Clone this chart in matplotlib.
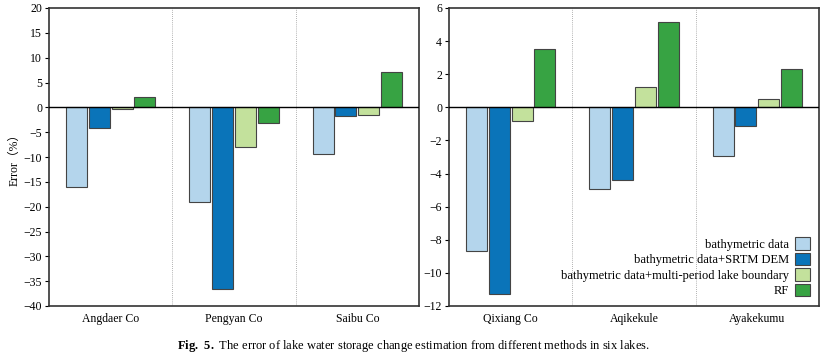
import numpy as np
import matplotlib.pyplot as plt

plt.rcParams['font.family'] = ['Liberation Serif', 'Noto Sans CJK SC']
plt.rcParams['font.size'] = 8.5
plt.rcParams['mathtext.fontset'] = 'custom'
plt.rcParams['mathtext.rm'] = 'Liberation Serif'
plt.rcParams['mathtext.bf'] = 'Liberation Serif:bold'

methods = ['bathymetric data', 'bathymetric data+SRTM DEM',
           'bathymetric data+multi-period lake boundary', 'RF']
colors = ['#b4d5ec', '#0a74b9', '#c3e19c', '#37a343']

lakes_left = ['Angdaer Co', 'Pengyan Co', 'Saibu Co']
bathy_left = [-16.0, -19.0, -9.4]
srtm_left = [-4.2, -36.5, -1.7]
multi_left = [-0.4, -7.9, -1.5]
rf_left = [2.0, -3.2, 7.2]

lakes_right = ['Qixiang Co', 'Aqikekule', 'Ayakekumu']
bathy_right = [-8.65, -4.95, -2.95]
srtm_right = [-11.3, -4.4, -1.1]
multi_right = [-0.85, 1.2, 0.5]
rf_right = [3.5, 5.15, 2.3]

fig = plt.figure(figsize=(8.26, 3.57), dpi=100)
ax1 = fig.add_axes([49/826, 51/357, 370/826, 298/357])
ax2 = fig.add_axes([449/826, 51/357, 370/826, 298/357])

def draw(ax, lakes, series, ylim, yticks):
    x = np.arange(len(lakes))
    w = 0.17
    for i, vals in enumerate(series):
        ax.bar(x + (i - 1.5) * 0.185, vals, w, color=colors[i],
               edgecolor='#444444', linewidth=0.8, label=methods[i], zorder=2)
    ax.axhline(0, color='black', lw=1.0, zorder=3)
    for b in [0.5, 1.5]:
        ax.axvline(b, color='#999999', lw=0.6, ls=(0, (1, 1.5)), zorder=1)
    ax.set_xlim(-0.5, len(lakes) - 0.5)
    ax.set_ylim(*ylim)
    ax.set_yticks(yticks)
    ax.set_yticklabels([str(t).replace('-', '\u2212') for t in yticks])
    ax.set_xticks(x)
    ax.set_xticklabels(lakes)
    ax.tick_params(axis='x', length=0, pad=5)
    ax.tick_params(axis='y', length=3, width=0.8, direction='out', pad=2)
    for s in ax.spines.values():
        s.set_linewidth(1.2)
        s.set_color('#333333')

draw(ax1, lakes_left, [bathy_left, srtm_left, multi_left, rf_left],
     (-40, 20), list(range(-40, 21, 5)))
draw(ax2, lakes_right, [bathy_right, srtm_right, multi_right, rf_right],
     (-12, 6), list(range(-12, 7, 2)))

ax1.set_ylabel('Error（%）', labelpad=2)

ax2.legend(loc='lower right', markerfirst=False, frameon=False,
           handlelength=1.2, handleheight=1.2, handletextpad=0.5,
           labelspacing=0.15, borderaxespad=0.3, fontsize=9)

fig.text(0.5, 1 - 346/357,
         r'$\mathbf{Fig.\ 5.}$ The error of lake water storage change estimation from different methods in six lakes.',
         ha='center', va='center', fontsize=9)

fig.savefig('out.png', dpi=100)
